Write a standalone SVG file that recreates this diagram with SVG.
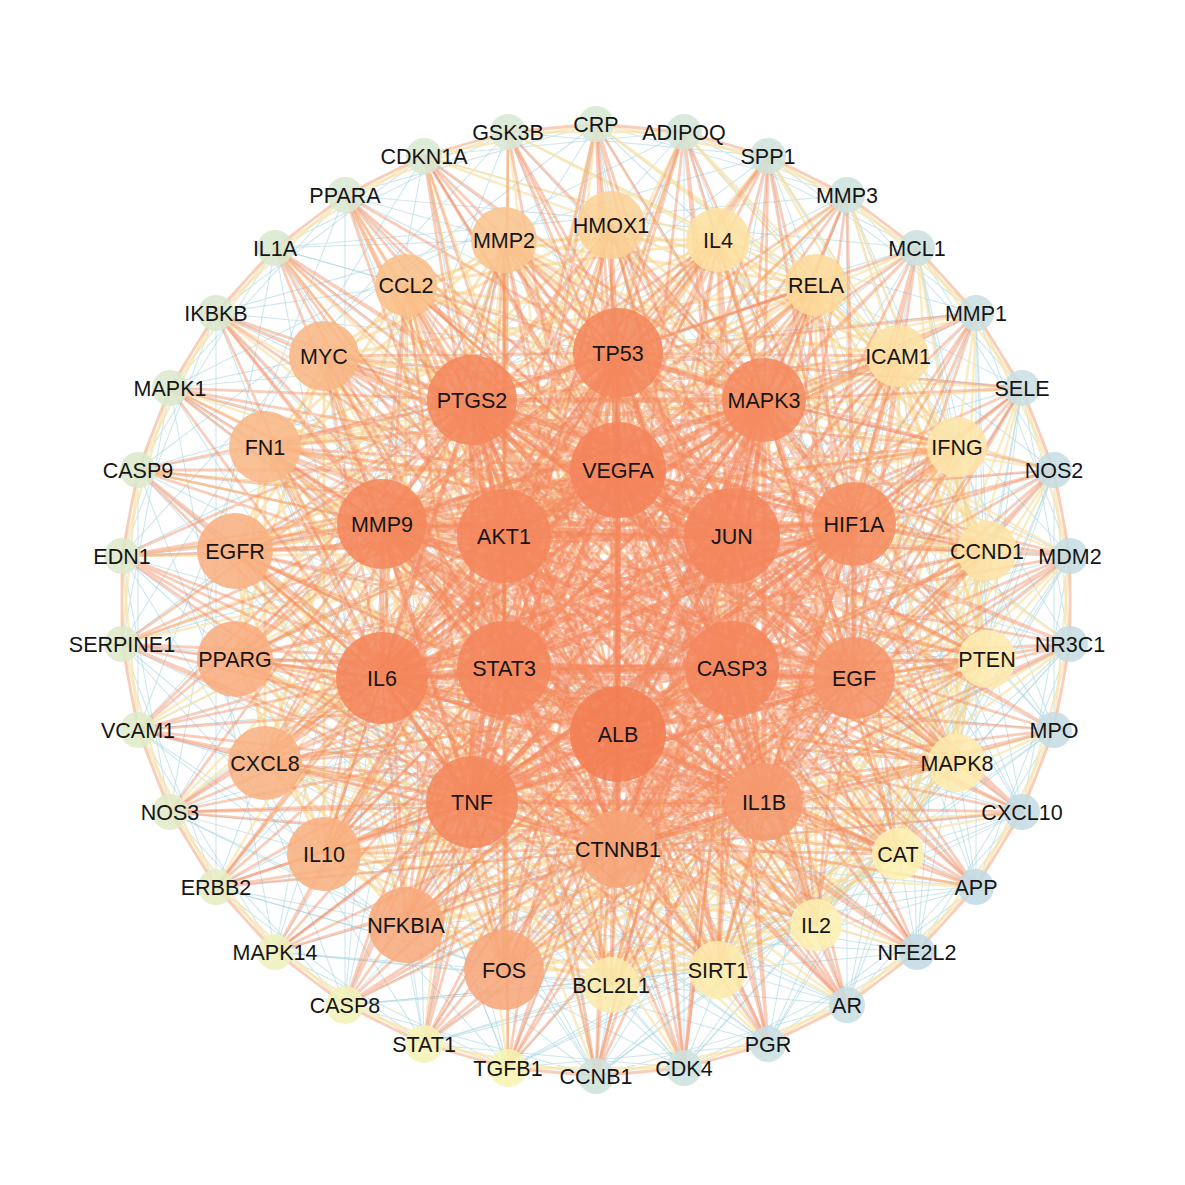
<svg xmlns="http://www.w3.org/2000/svg" width="1185" height="1185" viewBox="0 0 1185 1185">
<style>
.e{fill:none;stroke-linejoin:round;stroke-linecap:round}
.eb{stroke:#a6d3de;stroke-width:1.1;opacity:.55}
.ep{stroke:#fae3a8;stroke-width:2.4;opacity:.7}
.ey{stroke:#f9d48c;stroke-width:2.8;opacity:.6}
.eo{stroke:#f4875b;stroke-width:2.8;opacity:.42}
.ek{stroke:#f4845a;stroke-width:5;opacity:.5}
.n{fill-opacity:.88}
text{font-family:"Liberation Sans",Arial,Helvetica,sans-serif;font-size:21.5px;fill:#151515;text-anchor:middle}
</style>
<rect width="1185" height="1185" fill="#ffffff"/>
<g id="edges" class="e">
<polygon class="eb" points="596 124 847 195 1022 388 1070 644 976 887 768 1044 508 1068 275 952 138 730 138 470 275 248 508 132 768 156 976 313 1070 556 1022 812 847 1005 596 1076 345 1005 170 812 122 556 216 313 424 156 684 132 917 248 1054 470 1054 730 917 952 684 1068 424 1044 216 887 122 644 170 388 345 195"/>
<polygon class="eb" points="596 124 1054 470 847 1005 275 952 170 388 684 132 1070 556 768 1044 216 887 216 313 768 156 1070 644 684 1068 170 812 275 248 847 195 1054 730 596 1076 138 730 345 195 917 248 1022 812 508 1068 122 644 424 156 976 313 976 887 424 1044 122 556 508 132 1022 388 917 952 345 1005 138 470"/>
<polygon class="eb" points="596 124 1022 812 216 887 508 132 1054 730 275 952 424 156 1070 644 345 1005 345 195 1070 556 424 1044 275 248 1054 470 508 1068 216 313 1022 388 596 1076 170 388 976 313 684 1068 138 470 917 248 768 1044 122 556 847 195 847 1005 122 644 768 156 917 952 138 730 684 132 976 887 170 812"/>
<polygon class="eb" points="596 124 768 1044 275 248 1022 812 122 556 1054 470 216 887 847 195 508 1068 508 132 847 1005 216 313 1054 730 122 644 1022 388 275 952 768 156 596 1076 424 156 917 952 170 388 1070 644 138 730 976 313 345 1005 684 132 684 1068 345 195 976 887 138 470 1070 556 170 812 917 248 424 1044"/>
<polyline class="eb" points="611 225 1054 730 718 240 1022 812 816 285 976 887 898 356 917 952 957 447 847 1005 987 551 768 1044 987 659 684 1068 957 763 596 1076 898 854 508 1068 816 925 424 1044 718 970 345 1005 611 985 275 952 504 970 216 887 406 925 170 812 324 854 138 730 265 763 122 644 235 659 122 556 235 551 138 470 265 447 170 388 324 356 216 313 406 285 275 248 504 240 345 195"/>
<polyline class="eb" points="611 225 596 124 718 240 684 132 816 285 768 156 898 356 847 195 957 447 917 248 987 551 976 313 987 659 1022 388 957 763 1054 470 898 854 1070 556 816 925 1070 644 718 970 1054 730 611 985 1022 812 504 970 976 887 406 925 917 952 324 854 847 1005 265 763 768 1044 235 659 684 1068 235 551 596 1076 265 447 508 1068 324 356 424 1044 406 285 345 1005 504 240 275 952"/>
<polygon class="ep" points="596 124 768 156 917 248 1022 388 1070 556 1054 730 976 887 847 1005 684 1068 508 1068 345 1005 216 887 138 730 122 556 170 388 275 248 424 156"/>
<polygon class="ep" points="684 132 847 195 976 313 1054 470 1070 644 1022 812 917 952 768 1044 596 1076 424 1044 275 952 170 812 122 644 138 470 216 313 345 195 508 132"/>
<polyline class="ep" points="611 225 216 887 718 240 170 812 816 285 138 730 898 356 122 644 957 447 122 556 987 551 138 470 987 659 170 388 957 763 216 313 898 854 275 248 816 925 345 195 718 970 424 156 611 985 508 132 504 970 596 124 406 925 684 132 324 854 768 156 265 763 847 195 235 659 917 248 235 551 976 313 265 447 1022 388 324 356 1054 470 406 285 1070 556 504 240 1070 644"/>
<polyline class="ep" points="611 225 424 156 718 240 508 132 816 285 596 124 898 356 684 132 957 447 768 156 987 551 847 195 987 659 917 248 957 763 976 313 898 854 1022 388 816 925 1054 470 718 970 1070 556 611 985 1070 644 504 970 1054 730 406 925 1022 812 324 854 976 887 265 763 917 952 235 659 847 1005 235 551 768 1044 265 447 684 1068 324 356 596 1076 406 285 508 1068 504 240 424 1044"/>
<polygon class="ey" points="611 225 816 285 957 447 987 659 898 854 718 970 504 970 324 854 235 659 265 447 406 285"/>
<polygon class="ey" points="718 240 898 356 987 551 957 763 816 925 611 985 406 925 265 763 235 551 324 356 504 240"/>
<polygon class="ey" points="611 225 898 356 987 659 816 925 504 970 265 763 265 447 504 240 816 285 987 551 898 854 611 985 324 854 235 551 406 285 718 240 957 447 957 763 718 970 406 925 235 659 324 356"/>
<polygon class="ey" points="611 225 987 551 718 970 265 763 406 285 898 356 898 854 406 925 265 447 718 240 987 659 611 985 235 659 504 240 957 447 816 925 324 854 324 356 816 285 957 763 504 970 235 551"/>
<polygon class="ey" points="611 225 957 763 324 854 504 240 987 659 406 925 406 285 987 551 504 970 324 356 957 447 611 985 265 447 898 356 718 970 235 551 816 285 816 925 235 659 718 240 898 854 265 763"/>
<polygon class="ey" points="611 225 816 925 265 447 987 551 324 854 718 240 718 970 324 356 987 659 265 763 816 285 611 985 406 285 957 763 235 659 898 356 504 970 504 240 898 854 235 551 957 447 406 925"/>
<polygon class="eo" points="596 124 684 132 768 156 847 195 917 248 976 313 1022 388 1054 470 1070 556 1070 644 1054 730 1022 812 976 887 917 952 847 1005 768 1044 684 1068 596 1076 508 1068 424 1044 345 1005 275 952 216 887 170 812 138 730 122 644 122 556 138 470 170 388 216 313 275 248 345 195 424 156 508 132"/>
<polyline class="eo" points="618 470 596 124 732 536 684 132 732 668 768 156 618 734 847 195 504 668 917 248 504 536 976 313 618 353 1022 388 764 400 1054 470 854 524 1070 556 854 678 1070 644 764 802 1054 730 618 849 1022 812 472 802 976 887 382 678 917 952 382 524 847 1005 472 400 768 1044 618 470 684 1068 732 536 596 1076 732 668 508 1068 618 734 424 1044 504 668 345 1005 504 536 275 952 618 353 216 887 764 400 170 812 854 524 138 730 854 678 122 644 764 802 122 556 618 849 138 470 472 802 170 388 382 678 216 313 382 524 275 248 472 400 345 195 618 470 424 156 732 536 508 132 732 668 596 124 618 734 684 132 504 668 768 156 504 536 847 195 618 353 917 248 764 400 976 313 854 524 1022 388 854 678 1054 470 764 802 1070 556 618 849 1070 644 472 802 1054 730 382 678 1022 812 382 524 976 887 472 400 917 952 618 470 847 1005 732 536 768 1044 732 668 684 1068 618 734 596 1076 504 668 508 1068 504 536 424 1044 618 353 345 1005 764 400 275 952 854 524 216 887 854 678 170 812 764 802 138 730 618 849 122 644 472 802 122 556 382 678 138 470 382 524 170 388 472 400 216 313"/>
<polyline class="eo" points="618 470 275 248 732 536 345 195 732 668 424 156 618 734 508 132 504 668 596 124 504 536 684 132 618 353 768 156 764 400 847 195 854 524 917 248 854 678 976 313 764 802 1022 388 618 849 1054 470 472 802 1070 556 382 678 1070 644 382 524 1054 730 472 400 1022 812 618 470 976 887 732 536 917 952 732 668 847 1005 618 734 768 1044 504 668 684 1068 504 536 596 1076 618 353 508 1068 764 400 424 1044 854 524 345 1005 854 678 275 952 764 802 216 887 618 849 170 812 472 802 138 730 382 678 122 644 382 524 122 556 472 400 138 470 618 470 170 388 732 536 216 313 732 668 275 248 618 734 345 195 504 668 424 156 504 536 508 132 618 353 596 124 764 400 684 132 854 524 768 156 854 678 847 195 764 802 917 248 618 849 976 313 472 802 1022 388 382 678 1054 470 382 524 1070 556 472 400 1070 644 618 470 1054 730 732 536 1022 812 732 668 976 887 618 734 917 952 504 668 847 1005 504 536 768 1044 618 353 684 1068 764 400 596 1076 854 524 508 1068 854 678 424 1044 764 802 345 1005 618 849 275 952 472 802 216 887 382 678 170 812 382 524 138 730 472 400 122 644 618 470 122 556 732 536 138 470 732 668 170 388 618 734 216 313 504 668 275 248 504 536 345 195 618 353 424 156 764 400 508 132"/>
<polyline class="eo" points="618 470 611 225 732 536 718 240 732 668 816 285 618 734 898 356 504 668 957 447 504 536 987 551 618 353 987 659 764 400 957 763 854 524 898 854 854 678 816 925 764 802 718 970 618 849 611 985 472 802 504 970 382 678 406 925 382 524 324 854 472 400 265 763 618 470 235 659 732 536 235 551 732 668 265 447 618 734 324 356 504 668 406 285 504 536 504 240 618 353 611 225 764 400 718 240 854 524 816 285 854 678 898 356 764 802 957 447 618 849 987 551 472 802 987 659 382 678 957 763 382 524 898 854 472 400 816 925 618 470 718 970 732 536 611 985 732 668 504 970 618 734 406 925 504 668 324 854 504 536 265 763 618 353 235 659 764 400 235 551 854 524 265 447 854 678 324 356 764 802 406 285 618 849 504 240 472 802 611 225 382 678 718 240 382 524 816 285 472 400 898 356 618 470 957 447 732 536 987 551 732 668 987 659 618 734 957 763 504 668 898 854 504 536 816 925 618 353 718 970 764 400 611 985 854 524 504 970 854 678 406 925 764 802 324 854 618 849 265 763 472 802 235 659 382 678 235 551 382 524 265 447 472 400 324 356 618 470 406 285 732 536 504 240 732 668 611 225 618 734 718 240 504 668 816 285 504 536 898 356 618 353 957 447 764 400 987 551 854 524 987 659 854 678 957 763 764 802 898 854 618 849 816 925 472 802 718 970 382 678 611 985 382 524 504 970 472 400 406 925 618 470 324 854 732 536 265 763 732 668 235 659 618 734 235 551 504 668 265 447 504 536 324 356 618 353 406 285 764 400 504 240 854 524 611 225 854 678 718 240 764 802 816 285 618 849 898 356 472 802 957 447 382 678 987 551 382 524 987 659 472 400 957 763"/>
<polyline class="eo" points="618 470 898 854 732 536 816 925 732 668 718 970 618 734 611 985 504 668 504 970 504 536 406 925 618 353 324 854 764 400 265 763 854 524 235 659 854 678 235 551 764 802 265 447 618 849 324 356 472 802 406 285 382 678 504 240 382 524 611 225 472 400 718 240 618 470 816 285 732 536 898 356 732 668 957 447 618 734 987 551 504 668 987 659 504 536 957 763 618 353 898 854 764 400 816 925 854 524 718 970 854 678 611 985 764 802 504 970 618 849 406 925 472 802 324 854 382 678 265 763 382 524 235 659 472 400 235 551 618 470 265 447 732 536 324 356 732 668 406 285 618 734 504 240 504 668 611 225 504 536 718 240 618 353 816 285 764 400 898 356 854 524 957 447 854 678 987 551 764 802 987 659 618 849 957 763 472 802 898 854 382 678 816 925 382 524 718 970 472 400 611 985 618 470 504 970 732 536 406 925 732 668 324 854 618 734 265 763 504 668 235 659 504 536 235 551 618 353 265 447 764 400 324 356 854 524 406 285 854 678 504 240 764 802 611 225 618 849 718 240 472 802 816 285 382 678 898 356 382 524 957 447 472 400 987 551 618 470 987 659 732 536 957 763 732 668 898 854 618 734 816 925 504 668 718 970 504 536 611 985 618 353 504 970 764 400 406 925 854 524 324 854 854 678 265 763 764 802 235 659 618 849 235 551 472 802 265 447 382 678 324 356 382 524 406 285 472 400 504 240 618 470"/>
<polygon class="ek" points="618 470 618 353 732 536 764 400 732 668 854 524 618 734 854 678 504 668 764 802 504 536 618 849 618 470 472 802 732 536 382 678 732 668 382 524 618 734 472 400 504 668 618 353 504 536 764 400 618 470 854 524 732 536 854 678 732 668 764 802 618 734 618 849 504 668 472 802 504 536 382 678 618 470 382 524 732 536 472 400 732 668 618 353 618 734 764 400 504 668 854 524 504 536 854 678 618 470 764 802 732 536 618 849 732 668 472 802 618 734 382 678 504 668 382 524 504 536 472 400"/>
<polygon class="ek" points="618 353 764 400 854 524 854 678 764 802 618 849 472 802 382 678 382 524 472 400"/>
<polygon class="ek" points="618 353 854 678 472 802 472 400 854 524 618 849 382 524 764 400 764 802 382 678"/>
<path class="ek" d="M618 353L854 524L764 802L472 802L382 524ZM764 400L854 678L618 849L382 678L472 400ZM618 353L764 802L382 524L854 524L472 802ZM764 400L618 849L472 400L854 678L382 678ZM618 353L618 849M764 400L472 802M854 524L382 678M854 678L382 524M764 802L472 400"/>
<path class="ek" d="M618 470L732 536L732 668L618 734L504 668L504 536ZM618 470L732 668L504 668ZM732 536L618 734L504 536ZM618 470L618 734M732 536L504 668M732 668L504 536"/>
</g>
<g id="nodes">
<g id="n-CRP"><circle class="n" cx="596" cy="124" r="18" fill="#d8e8d6"/><text x="596" y="132">CRP</text></g>
<g id="n-ADIPOQ"><circle class="n" cx="684" cy="132" r="18" fill="#d5e6d8"/><text x="684" y="140">ADIPOQ</text></g>
<g id="n-SPP1"><circle class="n" cx="768" cy="156" r="18" fill="#cfe3dc"/><text x="768" y="164">SPP1</text></g>
<g id="n-MMP3"><circle class="n" cx="847" cy="195" r="18" fill="#cde2de"/><text x="847" y="203">MMP3</text></g>
<g id="n-MCL1"><circle class="n" cx="917" cy="248" r="18" fill="#cce1df"/><text x="917" y="256">MCL1</text></g>
<g id="n-MMP1"><circle class="n" cx="976" cy="313" r="18" fill="#c9dfe1"/><text x="976" y="321">MMP1</text></g>
<g id="n-SELE"><circle class="n" cx="1022" cy="388" r="18" fill="#c9dfe2"/><text x="1022" y="396">SELE</text></g>
<g id="n-NOS2"><circle class="n" cx="1054" cy="470" r="18" fill="#c6dde3"/><text x="1054" y="478">NOS2</text></g>
<g id="n-MDM2"><circle class="n" cx="1070" cy="556" r="18" fill="#c6dde3"/><text x="1070" y="564">MDM2</text></g>
<g id="n-NR3C1"><circle class="n" cx="1070" cy="644" r="18" fill="#c6dde3"/><text x="1070" y="652">NR3C1</text></g>
<g id="n-MPO"><circle class="n" cx="1054" cy="730" r="18" fill="#c5dce4"/><text x="1054" y="738">MPO</text></g>
<g id="n-CXCL10"><circle class="n" cx="1022" cy="812" r="18" fill="#c5dce4"/><text x="1022" y="820">CXCL10</text></g>
<g id="n-APP"><circle class="n" cx="976" cy="887" r="18" fill="#c3dbe5"/><text x="976" y="895">APP</text></g>
<g id="n-NFE2L2"><circle class="n" cx="917" cy="952" r="18" fill="#c3dbe5"/><text x="917" y="960">NFE2L2</text></g>
<g id="n-AR"><circle class="n" cx="847" cy="1005" r="18" fill="#c8dee2"/><text x="847" y="1013">AR</text></g>
<g id="n-PGR"><circle class="n" cx="768" cy="1044" r="18" fill="#c9dfe1"/><text x="768" y="1052">PGR</text></g>
<g id="n-CDK4"><circle class="n" cx="684" cy="1068" r="18" fill="#cde2df"/><text x="684" y="1076">CDK4</text></g>
<g id="n-CCNB1"><circle class="n" cx="596" cy="1076" r="18" fill="#cfe3dd"/><text x="596" y="1084">CCNB1</text></g>
<g id="n-TGFB1"><circle class="n" cx="508" cy="1068" r="19" fill="#f7f3b3"/><text x="508" y="1076">TGFB1</text></g>
<g id="n-STAT1"><circle class="n" cx="424" cy="1044" r="19" fill="#f5f2b6"/><text x="424" y="1052">STAT1</text></g>
<g id="n-CASP8"><circle class="n" cx="345" cy="1005" r="19" fill="#f2f1b9"/><text x="345" y="1013">CASP8</text></g>
<g id="n-MAPK14"><circle class="n" cx="275" cy="952" r="18" fill="#eef0bd"/><text x="275" y="960">MAPK14</text></g>
<g id="n-ERBB2"><circle class="n" cx="216" cy="887" r="18" fill="#e6edc4"/><text x="216" y="895">ERBB2</text></g>
<g id="n-NOS3"><circle class="n" cx="170" cy="812" r="18" fill="#e1ebc8"/><text x="170" y="820">NOS3</text></g>
<g id="n-VCAM1"><circle class="n" cx="138" cy="730" r="18" fill="#dfeaca"/><text x="138" y="738">VCAM1</text></g>
<g id="n-SERPINE1"><circle class="n" cx="122" cy="644" r="18" fill="#dde9cb"/><text x="122" y="652">SERPINE1</text></g>
<g id="n-EDN1"><circle class="n" cx="122" cy="556" r="18" fill="#dde9cc"/><text x="122" y="564">EDN1</text></g>
<g id="n-CASP9"><circle class="n" cx="138" cy="470" r="18" fill="#dbe9cd"/><text x="138" y="478">CASP9</text></g>
<g id="n-MAPK1"><circle class="n" cx="170" cy="388" r="18" fill="#dbe9cd"/><text x="170" y="396">MAPK1</text></g>
<g id="n-IKBKB"><circle class="n" cx="216" cy="313" r="18" fill="#dae8ce"/><text x="216" y="321">IKBKB</text></g>
<g id="n-IL1A"><circle class="n" cx="275" cy="248" r="18" fill="#d9e8cf"/><text x="275" y="256">IL1A</text></g>
<g id="n-PPARA"><circle class="n" cx="345" cy="195" r="18" fill="#d9e8d0"/><text x="345" y="203">PPARA</text></g>
<g id="n-CDKN1A"><circle class="n" cx="424" cy="156" r="18" fill="#d8e8d2"/><text x="424" y="164">CDKN1A</text></g>
<g id="n-GSK3B"><circle class="n" cx="508" cy="132" r="18" fill="#d8e8d3"/><text x="508" y="140">GSK3B</text></g>
<g id="n-HMOX1"><circle class="n" cx="611" cy="225" r="34" fill="#fbd296"/><text x="611" y="233">HMOX1</text></g>
<g id="n-IL4"><circle class="n" cx="718" cy="240" r="32" fill="#fde0a2"/><text x="718" y="248">IL4</text></g>
<g id="n-RELA"><circle class="n" cx="816" cy="285" r="31" fill="#fcd99a"/><text x="816" y="293">RELA</text></g>
<g id="n-ICAM1"><circle class="n" cx="898" cy="356" r="31" fill="#fde0a3"/><text x="898" y="364">ICAM1</text></g>
<g id="n-IFNG"><circle class="n" cx="957" cy="447" r="30" fill="#fde5a9"/><text x="957" y="455">IFNG</text></g>
<g id="n-CCND1"><circle class="n" cx="987" cy="551" r="30" fill="#fde3a5"/><text x="987" y="559">CCND1</text></g>
<g id="n-PTEN"><circle class="n" cx="987" cy="659" r="29" fill="#feeaae"/><text x="987" y="667">PTEN</text></g>
<g id="n-MAPK8"><circle class="n" cx="957" cy="763" r="29" fill="#feebad"/><text x="957" y="771">MAPK8</text></g>
<g id="n-CAT"><circle class="n" cx="898" cy="854" r="26" fill="#fdf0b1"/><text x="898" y="862">CAT</text></g>
<g id="n-IL2"><circle class="n" cx="816" cy="925" r="26" fill="#fdf0b2"/><text x="816" y="933">IL2</text></g>
<g id="n-SIRT1"><circle class="n" cx="718" cy="970" r="29" fill="#fde9ac"/><text x="718" y="978">SIRT1</text></g>
<g id="n-BCL2L1"><circle class="n" cx="611" cy="985" r="28" fill="#fbeaad"/><text x="611" y="993">BCL2L1</text></g>
<g id="n-FOS"><circle class="n" cx="504" cy="970" r="40" fill="#f7a77b"/><text x="504" y="978">FOS</text></g>
<g id="n-NFKBIA"><circle class="n" cx="406" cy="925" r="38" fill="#f7aa7c"/><text x="406" y="933">NFKBIA</text></g>
<g id="n-IL10"><circle class="n" cx="324" cy="854" r="37" fill="#f8b081"/><text x="324" y="862">IL10</text></g>
<g id="n-CXCL8"><circle class="n" cx="265" cy="763" r="37" fill="#f8b283"/><text x="265" y="771">CXCL8</text></g>
<g id="n-PPARG"><circle class="n" cx="235" cy="659" r="38" fill="#f8ad80"/><text x="235" y="667">PPARG</text></g>
<g id="n-EGFR"><circle class="n" cx="235" cy="551" r="38" fill="#f8b082"/><text x="235" y="559">EGFR</text></g>
<g id="n-FN1"><circle class="n" cx="265" cy="447" r="36" fill="#f8b787"/><text x="265" y="455">FN1</text></g>
<g id="n-MYC"><circle class="n" cx="324" cy="356" r="35" fill="#f8b786"/><text x="324" y="364">MYC</text></g>
<g id="n-CCL2"><circle class="n" cx="406" cy="285" r="31" fill="#f9c08a"/><text x="406" y="293">CCL2</text></g>
<g id="n-MMP2"><circle class="n" cx="504" cy="240" r="33" fill="#f9c590"/><text x="504" y="248">MMP2</text></g>
<g id="n-TP53"><circle class="n" cx="618" cy="353" r="45" fill="#f4875c"/><text x="618" y="361">TP53</text></g>
<g id="n-MAPK3"><circle class="n" cx="764" cy="400" r="42" fill="#f58b60"/><text x="764" y="408">MAPK3</text></g>
<g id="n-HIF1A"><circle class="n" cx="854" cy="524" r="42" fill="#f58e62"/><text x="854" y="532">HIF1A</text></g>
<g id="n-EGF"><circle class="n" cx="854" cy="678" r="41" fill="#f5946a"/><text x="854" y="686">EGF</text></g>
<g id="n-IL1B"><circle class="n" cx="764" cy="802" r="39" fill="#f59a70"/><text x="764" y="810">IL1B</text></g>
<g id="n-CTNNB1"><circle class="n" cx="618" cy="849" r="39" fill="#f6a477"/><text x="618" y="857">CTNNB1</text></g>
<g id="n-TNF"><circle class="n" cx="472" cy="802" r="46" fill="#f4875c"/><text x="472" y="810">TNF</text></g>
<g id="n-IL6"><circle class="n" cx="382" cy="678" r="46" fill="#f4855a"/><text x="382" y="686">IL6</text></g>
<g id="n-MMP9"><circle class="n" cx="382" cy="524" r="45" fill="#f4875c"/><text x="382" y="532">MMP9</text></g>
<g id="n-PTGS2"><circle class="n" cx="472" cy="400" r="45" fill="#f4875c"/><text x="472" y="408">PTGS2</text></g>
<g id="n-VEGFA"><circle class="n" cx="618" cy="470" r="48" fill="#f4835a"/><text x="618" y="478">VEGFA</text></g>
<g id="n-JUN"><circle class="n" cx="732" cy="536" r="48" fill="#f4855c"/><text x="732" y="544">JUN</text></g>
<g id="n-CASP3"><circle class="n" cx="732" cy="668" r="47" fill="#f4865c"/><text x="732" y="676">CASP3</text></g>
<g id="n-ALB"><circle class="n" cx="618" cy="734" r="48" fill="#f37d53"/><text x="618" y="742">ALB</text></g>
<g id="n-STAT3"><circle class="n" cx="504" cy="668" r="47" fill="#f4865c"/><text x="504" y="676">STAT3</text></g>
<g id="n-AKT1"><circle class="n" cx="504" cy="536" r="47" fill="#f4865c"/><text x="504" y="544">AKT1</text></g>
</g>
</svg>
